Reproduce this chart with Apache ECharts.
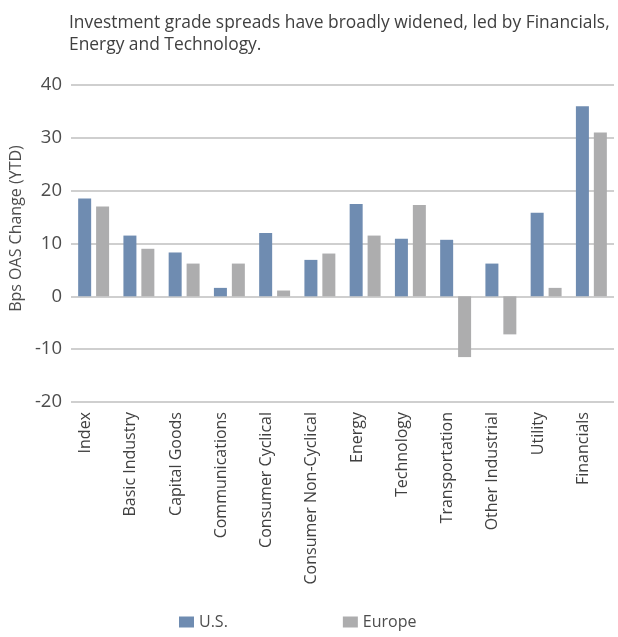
<!DOCTYPE html>
<html><head><meta charset="utf-8">
<script src="https://cdn.jsdelivr.net/npm/echarts@6/dist/echarts.min.js"></script>
<style>html,body{margin:0;padding:0;background:#fff}#c{width:618px;height:637px}</style>
</head><body><div id="c"></div>
<script>
const categories = ["Index","Basic Industry","Capital Goods","Communications","Consumer Cyclical","Consumer Non-Cyclical","Energy","Technology","Transportation","Other Industrial","Utility","Financials"];
const usValues = [18.5, 11.5, 8.3, 1.6, 12.0, 6.9, 17.5, 10.9, 10.7, 6.2, 15.8, 36.0];
const europeValues = [17.0, 9.0, 6.2, 6.2, 1.1, 8.1, 11.5, 17.3, -11.5, -7.2, 1.6, 31.0];
const yTicks = [-20, -10, 0, 10, 20, 30, 40];
const font = "Open Sans";
const chart = echarts.init(document.getElementById('c'), null, {renderer:'canvas'});
chart.setOption({
  animation:false,
  textStyle:{fontFamily:font},
  title:{
    text:"Investment grade spreads have broadly widened, led by Financials,\nEnergy and Technology.",
    left:64, top:7,
    textStyle:{fontFamily:font, fontSize:17.4, fontWeight:'normal', color:'#404040', lineHeight:22}
  },
  legend:{
    bottom:2, left:174, itemGap:115, itemWidth:15, itemHeight:11,
    icon:'rect',
    textStyle:{fontFamily:font, fontSize:16, color:'#4d4d4d'},
    data:['U.S.','Europe']
  },
  grid:{left:66, right:4, top:85, bottom:235},
  xAxis:{
    type:'category', data:categories,
    axisLine:{show:false}, axisTick:{show:false},
    axisLabel:{rotate:90, fontFamily:font, fontSize:16, color:'#404040', margin:10, verticalAlign:'bottom', lineHeight:16, interval:0}
  },
  yAxis:{
    type:'value', min:yTicks[0], max:yTicks[yTicks.length-1], interval:10,
    name:'Bps OAS Change (YTD)', nameLocation:'middle', nameGap:42, nameRotate:90,
    nameTextStyle:{fontFamily:font, fontSize:16, color:'#4d4d4d', padding:[0,0,0,30]},
    axisLine:{show:false}, axisTick:{show:false},
    axisLabel:{fontFamily:font, fontSize:18.5, color:'#4d4d4d', margin:9},
    splitLine:{lineStyle:{color:'#bfbfbf', width:1.5}}
  },
  series:[
    {name:'U.S.', type:'bar', data:usValues, barWidth:13, barGap:'38%', itemStyle:{color:'#6f8cb1'}},
    {name:'Europe', type:'bar', data:europeValues, barWidth:13, itemStyle:{color:'#adadae'}}
  ]
});
</script></body></html>
